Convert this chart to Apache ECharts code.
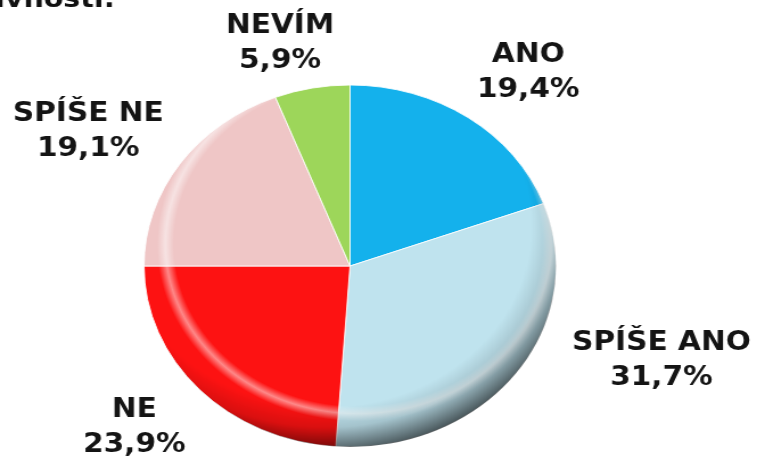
<!DOCTYPE html>
<html>
<head>
<meta charset="utf-8">
<script src="https://cdn.jsdelivr.net/npm/echarts@6/dist/echarts.min.js"></script>
<style>
html,body{margin:0;padding:0;background:#fff;overflow:hidden;width:757px;height:456px;}
#chart{width:665px;height:456px;transform:scaleX(1.1384);transform-origin:0 0;}
</style>
</head>
<body>
<div id="chart"></div>
<script>
// Data
const categories = ['ANO', 'SPÍŠE ANO', 'NE', 'SPÍŠE NE', 'NEVÍM'];
const shares = [19.4, 31.7, 23.9, 19.1, 5.9];
const sliceColors = ['#14b1ec', '#bfe3ee', '#fd1212', '#efc6c6', '#9dd65a'];
const titleFragment = 'aktivnosti:';

// Layout (chart coordinates, before horizontal stretch)
const CX = 307.5, CY = 266, R = 181;
const labelPos = [[464, 73], [581, 361], [118, 428], [77.5, 132], [246, 44]];

const chart = echarts.init(document.getElementById('chart'), null, {renderer: 'canvas'});
const fmt = v => v.toFixed(1).replace('.', ',') + '%';

chart.setOption({
  animation: false,
  backgroundColor: '#ffffff',
  graphic: [{
    type: 'text',
    x: 101, y: 13,
    style: {
      text: titleFragment,
      fontFamily: 'DejaVu Sans',
      fontWeight: 'bold',
      fontSize: 25,
      fill: '#111',
      align: 'right',
      verticalAlign: 'bottom'
    }
  }],
  series: [
    {
      type: 'pie',
      center: [CX, CY],
      radius: [0, R],
      startAngle: 90,
      clockwise: true,
      avoidLabelOverlap: false,
      itemStyle: {borderColor: 'rgba(255,255,255,0.85)', borderWidth: 1},
      label: {
        show: true,
        position: 'outside',
        formatter: p => p.name + '\n' + fmt(p.value),
        fontFamily: 'DejaVu Sans',
        fontWeight: 'bold',
        fontSize: 26,
        lineHeight: 35,
        color: '#141414',
        align: 'center'
      },
      labelLine: {show: false},
      labelLayout: p => ({
        x: labelPos[p.dataIndex][0],
        y: labelPos[p.dataIndex][1],
        align: 'center',
        verticalAlign: 'middle'
      }),
      emphasis: {disabled: true},
      data: categories.map((c, i) => ({name: c, value: shares[i], itemStyle: {color: sliceColors[i]}}))
    },
    {
      type: 'pie',
      silent: true,
      center: [CX, CY],
      radius: [0, R],
      label: {show: false},
      labelLine: {show: false},
      emphasis: {disabled: true},
      itemStyle: {
        color: {
          type: 'radial', global: true, x: CX + 0.04 * R, y: CY - 0.12 * R, r: 1.04 * R,
          colorStops: [
            {offset: 0, color: 'rgba(255,255,255,0)'},
            {offset: 0.86, color: 'rgba(255,255,255,0)'},
            {offset: 0.9, color: 'rgba(255,255,255,0.5)'},
            {offset: 0.94, color: 'rgba(255,255,255,0)'},
            {offset: 1, color: 'rgba(255,255,255,0)'}
          ]
        }
      },
      data: [{name: 'hl', value: 1}]
    },
    {
      type: 'pie',
      silent: true,
      center: [CX, CY],
      radius: [0, R],
      label: {show: false},
      labelLine: {show: false},
      emphasis: {disabled: true},
      itemStyle: {
        color: {
          type: 'radial', global: true, x: CX - 0.12 * R, y: CY - 0.22 * R, r: 1.25 * R,
          colorStops: [
            {offset: 0, color: 'rgba(0,0,0,0)'},
            {offset: 0.8, color: 'rgba(0,0,0,0)'},
            {offset: 0.89, color: 'rgba(0,0,0,0.14)'},
            {offset: 1, color: 'rgba(0,0,0,0.62)'}
          ]
        }
      },
      data: [{name: 'sh', value: 1}]
    }
  ]
});
</script>
</body>
</html>
